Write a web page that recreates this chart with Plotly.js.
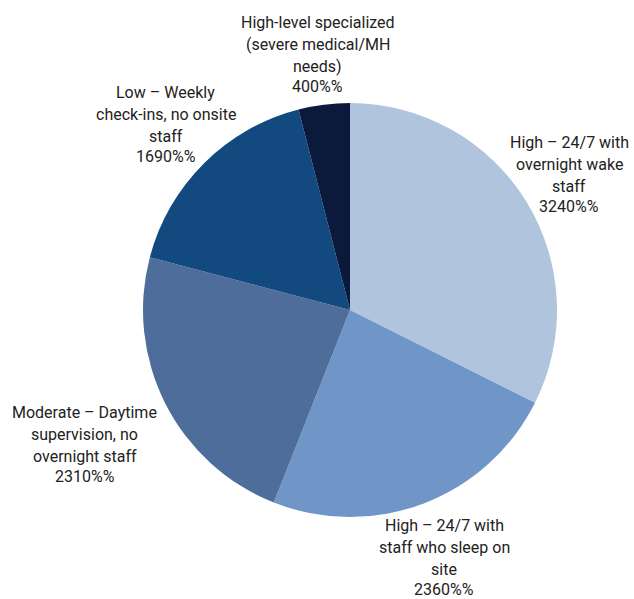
<!DOCTYPE html>
<html>
<head>
<meta charset="utf-8">
<script src="https://cdn.plot.ly/plotly-3.0.1.min.js"></script>
<style>html,body{margin:0;padding:0;background:#fff;}#chart{width:634px;height:599px;}</style>
</head>
<body>
<div id="chart"></div>
<script>
const categories = [
  "High – 24/7 with overnight wake staff",
  "High – 24/7 with staff who sleep on site",
  "Moderate – Daytime supervision, no overnight staff",
  "Low – Weekly check-ins, no onsite staff",
  "High-level specialized (severe medical/MH needs)"
];
const labelLines = [
  ["High – 24/7 with", "overnight wake", "staff"],
  ["High – 24/7 with", "staff who sleep on", "site"],
  ["Moderate – Daytime", "supervision, no", "overnight staff"],
  ["Low – Weekly", "check-ins, no onsite", "staff"],
  ["High-level specialized", "(severe medical/MH", "needs)"]
];
const values = [3240, 2360, 2310, 1690, 400];
const valueLabels = ["3240%%", "2360%%", "2310%%", "1690%%", "400%%"];
const colors = ["#b0c4de", "#7096c8", "#4e6d9a", "#124a80", "#0b1a3c"];

// layout helpers (not data)
const W = 634, H = 599;
const M = {l: 143, r: 77, t: 103, b: 82};
const PW = W - M.l - M.r, PH = H - M.t - M.b;
const CX = M.l + PW / 2, CY = M.t + PH / 2, R = Math.min(PW, PH) / 2;
const labelRadius = [1.245, 1.28, 1.435, 1.262, 1.245];
const nameStep = 22, valueStep = 20;

const total = values.reduce((a, b) => a + b, 0);
const annotations = [];
let cum = 0;
values.forEach((v, i) => {
  const mid = (cum + v / 2) / total * 2 * Math.PI;
  cum += v;
  const d = labelRadius[i] * R;
  const bx = CX + d * Math.sin(mid);
  const by = CY - d * Math.cos(mid);
  const lines = labelLines[i].concat([valueLabels[i]]);
  const offs = [];
  let y = 0;
  lines.forEach((ln, k) => {
    if (k > 0) y += (k === lines.length - 1) ? valueStep : nameStep;
    offs.push(y);
  });
  const midOff = (offs[0] + offs[offs.length - 1]) / 2;
  lines.forEach((ln, k) => {
    const py = by + offs[k] - midOff;
    annotations.push({
      text: ln,
      xref: "paper", yref: "paper",
      x: (bx - M.l) / PW,
      y: (M.t + PH - py) / PH,
      xanchor: "center", yanchor: "middle",
      showarrow: false,
      font: {family: "Roboto, sans-serif", size: 16, color: "#222"}
    });
  });
});

Plotly.newPlot("chart", [{
  type: "pie",
  labels: categories,
  values: values,
  text: valueLabels,
  textinfo: "none",
  textposition: "none",
  sort: false,
  direction: "clockwise",
  rotation: 0,
  marker: {colors: colors, line: {width: 0}},
  showlegend: false,
  hoverinfo: "none"
}], {
  width: W, height: H,
  margin: M,
  paper_bgcolor: "#fff",
  showlegend: false,
  annotations: annotations
}, {displayModeBar: false, staticPlot: true});
</script>
</body>
</html>
